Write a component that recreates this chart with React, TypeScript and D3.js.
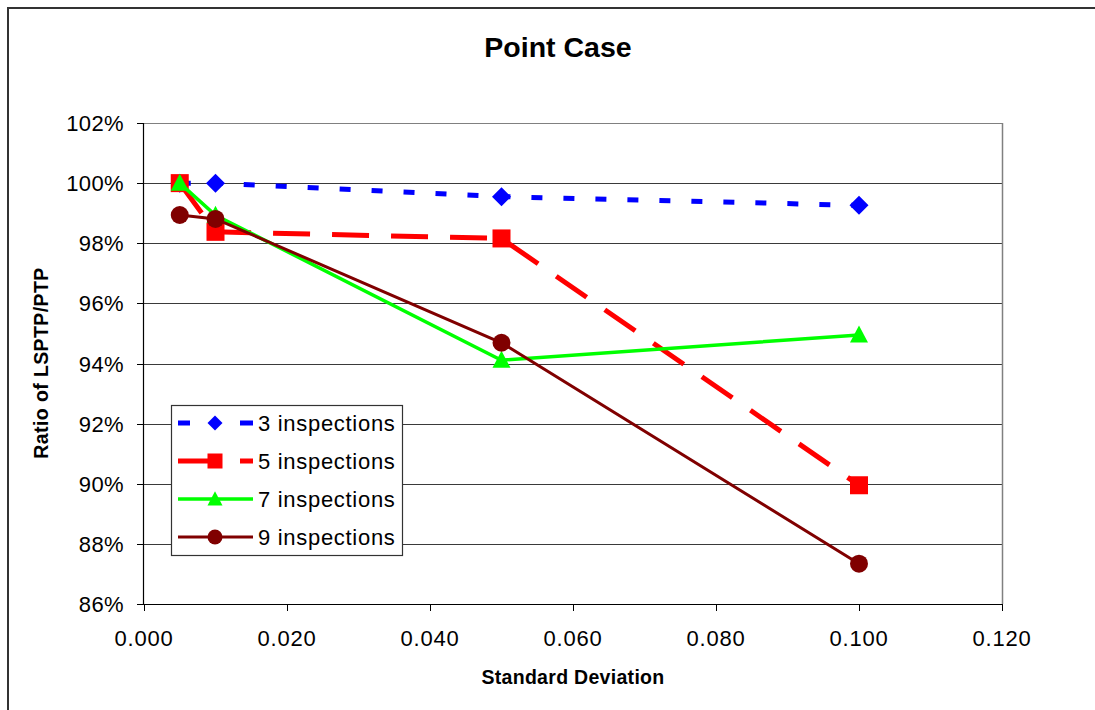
import React from "react";
import * as d3 from "d3";

const stdDev = [0.005, 0.01, 0.05, 0.1];
const insp3 = [1.0, 1.0, 0.9955, 0.9926];
const insp5 = [1.0, 0.9838, 0.9816, 0.8995];
const insp7 = [1.0, 0.9893, 0.9411, 0.9495];
const insp9 = [0.9894, 0.9881, 0.9469, 0.8734];
const seriesNames = ["3 inspections", "5 inspections", "7 inspections", "9 inspections"];
const xTicks = [0, 0.02, 0.04, 0.06, 0.08, 0.1, 0.12];
const yTicks = [0.86, 0.88, 0.9, 0.92, 0.94, 0.96, 0.98, 1.0, 1.02];

const W = 1095;
const H = 710;
const plot = { left: 144, right: 1002, top: 123, bottom: 604 };
const FONT = "'Liberation Sans', Arial, sans-serif";

type Style = {
  color: string;
  width: number;
  dash?: string;
  marker: "diamond" | "square" | "triangle" | "circle";
};

const styles: Style[] = [
  { color: "#0000ff", width: 5, dash: "11 21", marker: "diamond" },
  { color: "#ff0000", width: 5, dash: "37 22", marker: "square" },
  { color: "#00ff00", width: 3.5, marker: "triangle" },
  { color: "#800000", width: 3, marker: "circle" },
];

function Marker({ kind, x, y, size, color }: { kind: Style["marker"]; x: number; y: number; size: number; color: string }) {
  const h = size / 2;
  if (kind === "diamond") {
    return <path d={`M${x},${y - h}L${x + h},${y}L${x},${y + h}L${x - h},${y}Z`} fill={color} />;
  }
  if (kind === "square") {
    return <rect x={x - h} y={y - h} width={size} height={size} fill={color} />;
  }
  if (kind === "triangle") {
    return <path d={`M${x},${y - h * 1.05}L${x + h},${y + h * 0.85}L${x - h},${y + h * 0.85}Z`} fill={color} />;
  }
  return <circle cx={x} cy={y} r={h} fill={color} />;
}

export default function App() {
  const x = d3.scaleLinear().domain([0, 0.12]).range([plot.left, plot.right]);
  const y = d3.scaleLinear().domain([0.86, 1.02]).range([plot.bottom, plot.top]);
  const series = [insp3, insp5, insp7, insp9];
  const line = d3
    .line<number>()
    .x((_, i) => x(stdDev[i]))
    .y((d) => y(d));
  const pct = d3.format(".0%");
  const dec = d3.format(".3f");

  const legend = { x: 171, y: 405, w: 231, h: 150 };
  const rowY = [423, 461, 499, 537];

  return (
    <svg
      width={W}
      height={H}
      style={{ position: "absolute", left: 0, top: 0, background: "#fff" }}
      fontFamily={FONT}
    >
      <rect x={0} y={0} width={W} height={H} fill="#fff" />
      {/* outer chart frame */}
      <path d={`M8,${H + 5}V8H${W + 5}`} fill="none" stroke="#333" strokeWidth={2} />

      <text x={558} y={57} textAnchor="middle" fontSize={28.5} fontWeight="bold">
        Point Case
      </text>

      {/* grid */}
      {yTicks.map((t) => (
        <line
          key={t}
          x1={plot.left}
          x2={plot.right}
          y1={Math.round(y(t)) + 0.5}
          y2={Math.round(y(t)) + 0.5}
          stroke={t === 1.02 ? "#808080" : "#3a3a3a"}
          strokeWidth={1.2}
        />
      ))}
      <line x1={plot.right + 0.5} x2={plot.right + 0.5} y1={plot.top} y2={plot.bottom} stroke="#808080" strokeWidth={1.5} />

      {/* axes */}
      <line x1={plot.left - 0.5} x2={plot.left - 0.5} y1={plot.top} y2={plot.bottom + 0.5} stroke="#000" strokeWidth={1.2} />
      <line x1={plot.left} x2={plot.right + 1} y1={plot.bottom + 0.5} y2={plot.bottom + 0.5} stroke="#000" strokeWidth={1.2} />
      {yTicks.map((t) => (
        <g key={t}>
          <line x1={plot.left - 7} x2={plot.left} y1={Math.round(y(t)) + 0.5} y2={Math.round(y(t)) + 0.5} stroke="#000" strokeWidth={1} />
          <text x={124} y={y(t) + 8} textAnchor="end" fontSize={22} letterSpacing={0.4} fill="#000">
            {pct(t)}
          </text>
        </g>
      ))}
      {xTicks.map((t) => (
        <g key={t}>
          <line x1={Math.round(x(t)) + 0.5} x2={Math.round(x(t)) + 0.5} y1={plot.bottom} y2={plot.bottom + 7} stroke="#000" strokeWidth={1} />
          <text x={x(t)} y={646} textAnchor="middle" fontSize={22} letterSpacing={0.8} fill="#000">
            {dec(t)}
          </text>
        </g>
      ))}

      <text x={573} y={684} textAnchor="middle" fontSize={19.5} fontWeight="bold" letterSpacing={0.3}>
        Standard Deviation
      </text>
      <text
        transform={`translate(48,363) rotate(-90)`}
        textAnchor="middle"
        fontSize={19.5}
        fontWeight="bold"
        letterSpacing={0.4}
      >
        Ratio of LSPTP/PTP
      </text>

      {/* series */}
      {series.map((vals, si) => {
        const s = styles[si];
        return (
          <g key={si}>
            <path d={line(vals) || ""} fill="none" stroke={s.color} strokeWidth={s.width} strokeDasharray={s.dash} />
            {vals.map((v, i) => (
              <Marker key={i} kind={s.marker} x={x(stdDev[i])} y={y(v)} size={s.marker === "diamond" ? 19 : 18} color={s.color} />
            ))}
          </g>
        );
      })}

      {/* legend */}
      <rect x={legend.x + 0.5} y={legend.y + 0.5} width={legend.w} height={legend.h} fill="#fff" stroke="#333" strokeWidth={1.2} />
      {seriesNames.map((name, i) => {
        const s = styles[i];
        const ry = rowY[i];
        return (
          <g key={name}>
            <line
              x1={178}
              x2={253}
              y1={ry}
              y2={ry}
              stroke={s.color}
              strokeWidth={s.width}
              strokeDasharray={i === 0 ? "12 50 13" : i === 1 ? "42 20 13" : undefined}
            />
            <Marker kind={s.marker} x={215} y={ry} size={15} color={s.color} />
            <text x={258} y={ry + 8} fontSize={22} letterSpacing={0.7} fill="#000">
              {name}
            </text>
          </g>
        );
      })}
    </svg>
  );
}
